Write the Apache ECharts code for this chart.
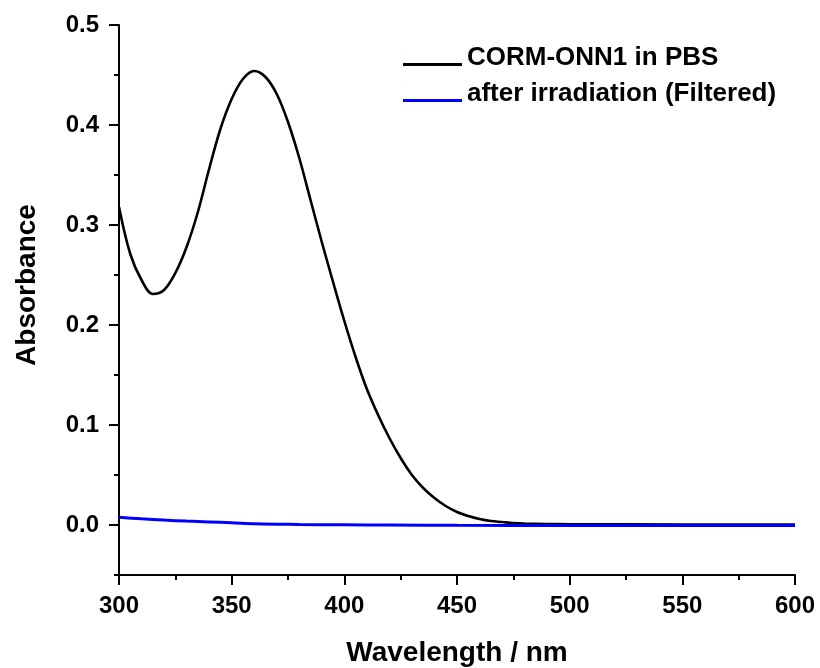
<!DOCTYPE html>
<html>
<head>
<meta charset="utf-8">
<script src="https://cdn.jsdelivr.net/npm/echarts@6/dist/echarts.min.js"></script>
<style>
html,body{margin:0;padding:0;background:#fff;}
#chart{width:820px;height:668px;}
</style>
</head>
<body>
<div id="chart"></div>
<script>
// Wavelength (nm) and absorbance
const wlBlack = [300, 305, 310, 315, 320, 325, 330, 335, 340, 345, 350, 355, 360, 365, 370, 375, 380, 385, 390, 395, 400, 405, 410, 415, 420, 425, 430, 435, 440, 445, 450, 455, 460, 465, 470, 475, 480, 490, 500, 550, 600];
const absBlack = [0.318, 0.271, 0.245, 0.231, 0.235, 0.252, 0.278, 0.313, 0.356, 0.396, 0.426, 0.446, 0.454, 0.448, 0.431, 0.403, 0.367, 0.325, 0.283, 0.243, 0.204, 0.168, 0.136, 0.110, 0.087, 0.067, 0.050, 0.037, 0.027, 0.019, 0.013, 0.009, 0.006, 0.004, 0.003, 0.002, 0.0015, 0.001, 0.0008, 0.0005, 0.0004];
const wlBlue = [300, 310, 320, 330, 340, 350, 360, 370, 380, 400, 420, 450, 500, 550, 600];
const absBlue = [0.0077, 0.0062, 0.0049, 0.0039, 0.0031, 0.0023, 0.0013, 0.0008, 0.0005, 0.0002, 0.0, -0.0003, -0.0005, -0.0006, -0.0006];

const seriesNames = ['CORM-ONN1 in PBS', 'after irradiation (Filtered)'];
const seriesColors = ['#000000', '#0000ff'];
const xTickValues = [300, 350, 400, 450, 500, 550, 600];
const yTickValues = [0.0, 0.1, 0.2, 0.3, 0.4, 0.5];
const xTitle = 'Wavelength / nm';
const yTitle = 'Absorbance';

const FONT = 'Liberation Sans, Arial, sans-serif';
// legend line icon: 59x20 box with the stroke near the bottom (text baseline)
const LINE_ICON = 'path://M0,0L0.2,0L0.2,0.2L0,0.2Z M0,15L59,15L59,18L0,18Z M58.8,19.8L59,19.8L59,20L58.8,20Z';

const chart = echarts.init(document.getElementById('chart'), null, {renderer: 'canvas'});

const pairs = (xs, ys) => xs.map((x, i) => [x, ys[i]]);

chart.setOption({
  animation: false,
  backgroundColor: '#ffffff',
  grid: {left: 119, right: 25, top: 25, bottom: 93, containLabel: false, outerBoundsMode: 'none'},
  legend: {
    orient: 'vertical',
    left: 403,
    top: 45,
    padding: 0,
    itemGap: 10,
    itemWidth: 59,
    itemHeight: 20,
    data: seriesNames.map((n, i) => ({name: n, icon: LINE_ICON, itemStyle: {color: seriesColors[i], borderWidth: 0}})),
    textStyle: {fontFamily: FONT, fontWeight: 'bold', fontSize: 26, color: '#000'}
  },
  xAxis: {
    type: 'value',
    min: 300, max: 600, interval: 50,
    name: xTitle,
    nameLocation: 'middle',
    nameGap: 64,
    nameTextStyle: {fontFamily: FONT, fontWeight: 'bold', fontSize: 28, color: '#000'},
    axisLine: {show: true, onZero: false, lineStyle: {color: '#000', width: 2}},
    axisTick: {show: true, inside: false, length: 10, lineStyle: {color: '#000', width: 2}},
    minorTick: {show: true, splitNumber: 2, length: 5, lineStyle: {color: '#000', width: 2}},
    splitLine: {show: false},
    axisLabel: {
      margin: 19, fontFamily: FONT, fontWeight: 'bold', fontSize: 24, color: '#000',
      customValues: xTickValues,
      formatter: v => String(v)
    }
  },
  yAxis: [{
    type: 'value',
    min: -0.05, max: 0.5,
    position: 'left',
    name: yTitle,
    nameLocation: 'middle',
    nameRotate: 90,
    nameGap: 78,
    nameTextStyle: {fontFamily: FONT, fontWeight: 'bold', fontSize: 28, color: '#000', padding: [0, 0, 0, 30]},
    axisLine: {show: true, onZero: false, lineStyle: {color: '#000', width: 2}},
    axisTick: {show: true, inside: false, length: 10, customValues: yTickValues, lineStyle: {color: '#000', width: 2}},
    splitLine: {show: false},
    axisLabel: {
      margin: 20, fontFamily: FONT, fontWeight: 'bold', fontSize: 24, color: '#000',
      customValues: yTickValues,
      formatter: v => v.toFixed(1)
    }
  }, {
    type: 'value',
    min: -0.05, max: 0.5, interval: 0.05,
    position: 'left',
    offset: 0,
    axisLine: {show: false, onZero: false},
    axisTick: {show: true, inside: false, length: 5, lineStyle: {color: '#000', width: 2}},
    axisLabel: {show: false},
    splitLine: {show: false}
  }],
  series: [{
    name: seriesNames[0],
    type: 'line',
    yAxisIndex: 0,
    data: pairs(wlBlack, absBlack),
    smooth: 0.35,
    symbol: 'none',
    lineStyle: {color: seriesColors[0], width: 2.6},
    itemStyle: {color: seriesColors[0]},
    z: 2
  }, {
    name: seriesNames[1],
    type: 'line',
    yAxisIndex: 0,
    data: pairs(wlBlue, absBlue),
    smooth: 0.3,
    symbol: 'none',
    lineStyle: {color: seriesColors[1], width: 3},
    itemStyle: {color: seriesColors[1]},
    z: 3
  }]
});
</script>
</body>
</html>
